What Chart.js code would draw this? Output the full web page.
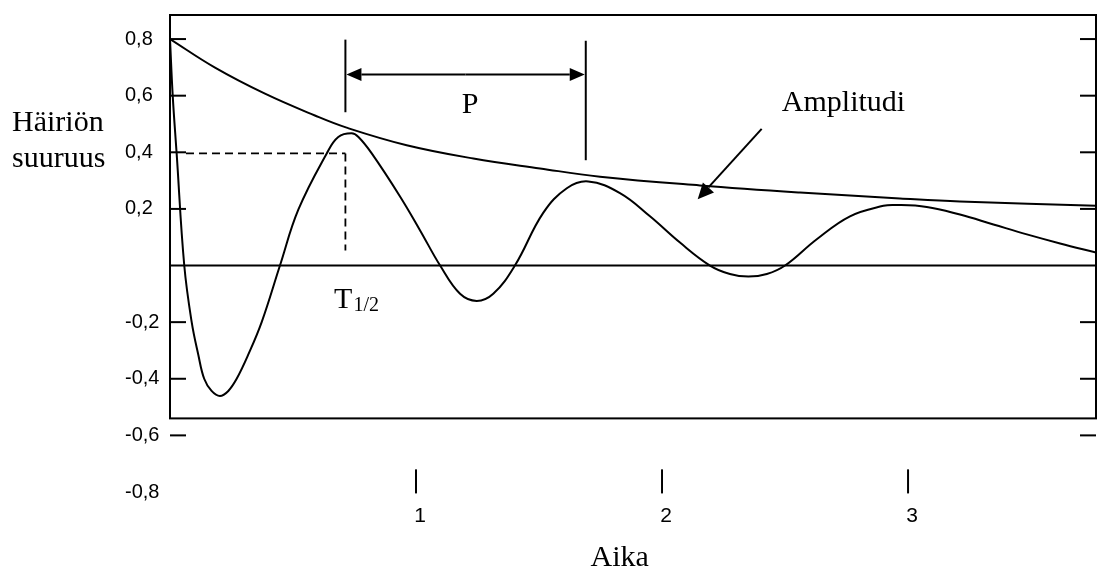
<!DOCTYPE html>
<html lang="fi">
<head>
<meta charset="utf-8">
<title>Häiriön vaimeneminen</title>
<script src="https://cdn.jsdelivr.net/npm/chart.js@4.4.1/dist/chart.umd.min.js"></script>
<style>
  html, body { margin: 0; padding: 0; background: #fff; }
  #kuvaaja { width: 1098px; height: 570px; }
</style>
</head>
<body>
<div id="kuvaaja"><canvas id="hairio"></canvas></div>
<script>
(function () {
    "use strict";

    // Häiriön suuruus ajan funktiona
    var aika = [0, 0.011, 0.027, 0.058, 0.088, 0.115, 0.139, 0.169, 0.203, 0.237,
                0.271, 0.318, 0.373, 0.447, 0.522, 0.637, 0.684, 0.738, 0.766, 0.820,
                0.935, 1.016, 1.098, 1.179, 1.247, 1.314, 1.402, 1.517, 1.613, 1.700,
                1.829, 1.951, 2.073, 2.195, 2.276, 2.351, 2.426, 2.500, 2.629, 2.764,
                2.900, 2.947, 3.076, 3.211, 3.347, 3.483, 3.618, 3.764];
    var hairio = [0.80, 0.60, 0.396, 0.0, -0.199, -0.315, -0.40, -0.443, -0.461, -0.443,
                  -0.40, -0.315, -0.199, 0.0, 0.198, 0.396, 0.454, 0.467, 0.454, 0.396,
                  0.244, 0.125, 0.0, -0.10, -0.125, -0.10, 0.0, 0.186, 0.273, 0.297,
                  0.256, 0.174, 0.081, 0.0, -0.03, -0.039, -0.03, 0.0, 0.093, 0.174,
                  0.211, 0.214, 0.207, 0.180, 0.145, 0.110, 0.078, 0.046];

    // Amplitudin verhokäyrä
    var ampAika = [0, 0.183, 0.386, 0.589, 0.718, 0.962, 1.233, 1.504, 1.748, 2.154,
                   2.561, 2.967, 3.211, 3.764];
    var amplitudi = [0.80, 0.699, 0.607, 0.530, 0.487, 0.425, 0.378, 0.343, 0.314, 0.283,
                     0.258, 0.237, 0.226, 0.211];

    // Akselien jaotus
    var xTicks = [1, 2, 3];
    var yTicks = [0.8, 0.6, 0.4, 0.2, -0.2, -0.4, -0.6, -0.8];
    var yMerkit = [0.8, 0.6, 0.4, 0.2, -0.2, -0.4, -0.6];
    var kehysAla = -0.54;

    function pisteet(xs, ys) {
        return xs.map(function (v, i) { return {x: v, y: ys[i]}; });
    }

    function viiva(ctx, x1, y1, x2, y2) {
        ctx.beginPath();
        ctx.moveTo(x1, y1);
        ctx.lineTo(x2, y2);
        ctx.stroke();
    }

    // Viiva, jonka päässä on täytetty nuolenkärki
    function nuoli(ctx, x1, y1, x2, y2, pituus, leveys) {
        var a = Math.atan2(y2 - y1, x2 - x1);
        var c = Math.cos(a), s = Math.sin(a);
        viiva(ctx, x1, y1, x2 - pituus * c, y2 - pituus * s);
        ctx.beginPath();
        ctx.moveTo(x2, y2);
        ctx.lineTo(x2 - pituus * c + leveys * s, y2 - pituus * s - leveys * c);
        ctx.lineTo(x2 - pituus * c - leveys * s, y2 - pituus * s + leveys * c);
        ctx.closePath();
        ctx.fill();
    }

    // Kehys, nollaviiva, jakoviivat ja selitteet
    var merkinnat = {
        id: 'merkinnat',
        afterDraw: function (chart) {
            var ctx = chart.ctx;
            var x = chart.scales.x, y = chart.scales.y;
            var X = function (v) { return x.getPixelForValue(v); };
            var Y = function (v) { return y.getPixelForValue(v); };
            var vasen = X(x.min), oikea = X(x.max), yla = Y(y.max), ala = Y(kehysAla);

            ctx.save();
            ctx.strokeStyle = '#000';
            ctx.fillStyle = '#000';
            ctx.lineWidth = 2;
            ctx.strokeRect(vasen, yla, oikea - vasen, ala - yla);
            viiva(ctx, vasen, Y(0), oikea, Y(0));

            yMerkit.forEach(function (v) {
                viiva(ctx, vasen, Y(v), vasen + 16, Y(v));
                viiva(ctx, oikea - 16, Y(v), oikea, Y(v));
            });
            xTicks.forEach(function (v) {
                viiva(ctx, X(v), Y(-0.72), X(v), Y(-0.805));
            });

            // Jakso P
            viiva(ctx, X(0.713), Y(0.798), X(0.713), Y(0.5415));
            viiva(ctx, X(1.690), Y(0.794), X(1.690), Y(0.372));
            var keski = (X(0.713) + X(1.690)) / 2;
            nuoli(ctx, keski, Y(0.675), X(0.713) + 1, Y(0.675), 15, 6.5);
            nuoli(ctx, keski, Y(0.675), X(1.690) - 1, Y(0.675), 15, 6.5);

            // Amplitudin osoitin
            nuoli(ctx, X(2.405), Y(0.483), X(2.145), Y(0.234), 16, 7.5);

            // Puoliintumisaika
            ctx.lineWidth = 1.8;
            ctx.setLineDash([8, 5]);
            viiva(ctx, X(0.065), Y(0.396), X(0.713), Y(0.396));
            viiva(ctx, X(0.713), Y(0.396), X(0.713), Y(0.053));
            ctx.setLineDash([]);

            ctx.font = '30px "Liberation Serif"';
            ctx.textBaseline = 'alphabetic';
            ctx.textAlign = 'left';
            ctx.fillText('Häiriön', 12, 131);
            ctx.fillText('suuruus', 12, 167);
            ctx.fillText('Amplitudi', X(2.487), Y(0.546));
            var tx = X(0.667);
            ctx.fillText('T', tx, Y(-0.150));
            var tw = ctx.measureText('T').width;
            ctx.font = '20px "Liberation Serif"';
            ctx.fillText('1/2', tx + tw + 1, Y(-0.150) + 3);

            ctx.font = '30px "Liberation Serif"';
            ctx.textAlign = 'center';
            ctx.fillText('P', X(1.2195), Y(0.539));
            ctx.fillText('Aika', X(1.828), 566);
            ctx.restore();
        }
    };

    var ctx = document.getElementById('hairio').getContext('2d');
    var kaavio = new Chart(ctx, {
        type: 'line',
        data: {
            datasets: [{
                label: 'Häiriö',
                data: pisteet(aika, hairio),
                borderColor: '#000',
                borderWidth: 2,
                pointRadius: 0,
                fill: false,
                tension: 0.4
            },
            {
                label: 'Amplitudi',
                data: pisteet(ampAika, amplitudi),
                borderColor: '#000',
                borderWidth: 2,
                pointRadius: 0,
                fill: false,
                tension: 0.4
            }]
        },
        options: {
            responsive: true,
            maintainAspectRatio: false,
            animation: false,
            events: [],
            layout: {padding: {top: 10, right: 2, left: 125, bottom: 0}},
            plugins: {legend: {display: false}, tooltip: {enabled: false}},
            scales: {
                x: {
                    type: 'linear',
                    min: 0,
                    max: 3.764,
                    grid: {display: false, drawTicks: false},
                    border: {display: false},
                    afterBuildTicks: function (s) {
                        s.ticks = xTicks.map(function (v) { return {value: v}; });
                    },
                    afterFit: function (s) { s.height = 78; },
                    ticks: {
                        autoSkip: false,
                        maxRotation: 0,
                        padding: 12,
                        labelOffset: 4,
                        color: '#000',
                        font: {family: 'Liberation Sans', size: 21},
                        callback: function (v) { return String(v); }
                    }
                },
                y: {
                    type: 'linear',
                    min: -0.8,
                    max: 0.885,
                    grid: {display: false, drawTicks: false},
                    border: {display: false},
                    afterBuildTicks: function (s) {
                        s.ticks = yTicks.map(function (v) { return {value: v}; });
                    },
                    afterFit: function (s) { s.width = 45; },
                    ticks: {
                        autoSkip: false,
                        crossAlign: 'far',
                        color: '#000',
                        font: {family: 'Liberation Sans', size: 20},
                        callback: function (v) { return v.toFixed(1).replace('.', ','); }
                    }
                }
            }
        },
        plugins: [merkinnat]
    });
})();
</script>
</body>
</html>
